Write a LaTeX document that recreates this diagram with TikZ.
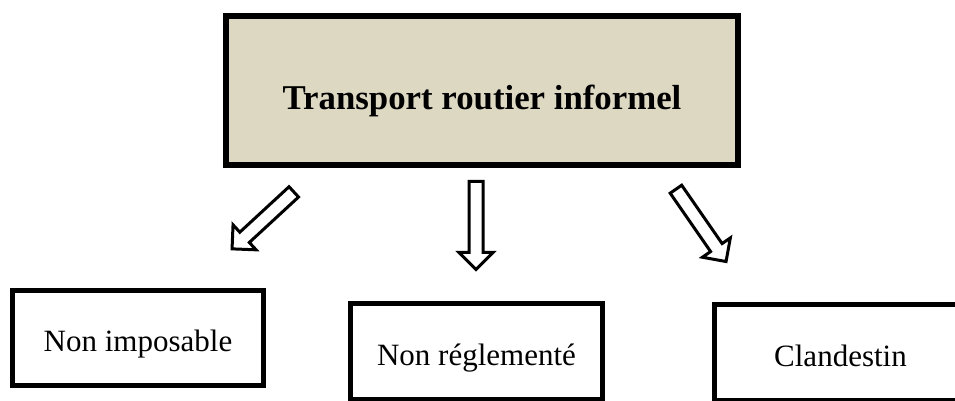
\documentclass[tikz,border=0pt]{standalone}
\usepackage{fontspec}
\setmainfont{Liberation Serif}
\usetikzlibrary{shapes.arrows}
\definecolor{titlefill}{RGB}{221,216,194}

\begin{document}
\begin{tikzpicture}[x=0.5pt, y=-0.5pt,
    kind/.style={draw, line width=2.5pt, inner sep=0pt, minimum width=126pt,
      minimum height=48pt, text height=13.5pt, text depth=0pt,
      font=\fontsize{15.5}{18}\selectfont},
    head/.style={draw, line width=3pt, fill=titlefill, inner sep=0pt,
      minimum width=256pt, minimum height=74.5pt, text height=19pt, text depth=0pt,
      font=\bfseries\fontsize{17.4}{21}\selectfont},
    hollow/.style={single arrow, draw, line width=1.5pt, fill=white,
      inner sep=0pt, inner ysep=2.75pt, single arrow head extend=5pt,
      minimum height=44pt}]
  \useasboundingbox (0,0) rectangle (955,401);
  \clip (0,0) rectangle (955,401);
  \node[head] (T) at (482,90.5){Transport routier informel};
  \node[kind, minimum width=125.5pt, minimum height=47.5pt] (NI) at (138,338){Non imposable};
  \node[kind] (NR) at (476.5,352){Non réglementé};
  \node[kind] (CL) at (840.5,353){Clandestin};
  % fleches vers les trois categories
  \node[hollow, rotate=222.7, minimum height=42pt] (aNI) at (265.5,218){};
  \node[hollow, rotate=-90] (aNR) at (476,222){};
  \node[hollow, rotate=-55.3] (aCL) at (699,222.5){};
\end{tikzpicture}
\end{document}
